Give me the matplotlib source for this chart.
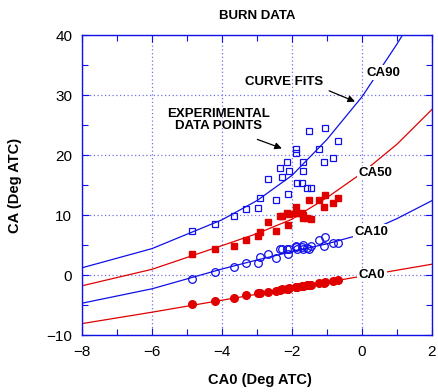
import matplotlib
matplotlib.use('Agg')
import matplotlib.pyplot as plt
from matplotlib.ticker import MultipleLocator

plt.rcParams['font.family'] = ['Liberation Sans', 'DejaVu Sans']

# measured burn points, one entry per test (x = CA0)
ca0_x = [-4.85, -4.2, -3.66, -3.31, -2.98, -2.91, -2.68, -2.47, -2.34, -2.29,
         -2.13, -2.11, -2.08, -1.89, -1.89, -1.85, -1.72, -1.68, -1.68, -1.58,
         -1.51, -1.46, -1.22, -1.08, -1.06, -0.84, -0.68]
ca0_pts = [-4.9, -4.3, -3.8, -3.4, -3.05, -2.95, -2.8, -2.6, -2.5, -2.4,
           -2.3, -2.25, -2.2, -2.05, -2.0, -2.0, -1.85, -1.8, -1.85, -1.7,
           -1.65, -1.6, -1.4, -1.25, -1.2, -1.0, -0.85]
ca10_pts = [-0.67, 0.45, 1.28, 1.95, 1.95, 2.95, 3.45, 2.78, 4.38, 4.3,
            4.38, 3.45, 4.4, 4.88, 4.6, 4.4, 4.6, 5.0, 4.3, 4.5,
            4.28, 4.8, 5.83, 4.88, 6.38, 5.38, 5.38]
ca50_pts = [3.45, 4.33, 4.83, 5.83, 6.5, 7.2, 8.8, 7.33, 9.9, 9.9,
            10.3, 8.33, 10.2, 11.3, 10.3, 10.3, 10.3, 9.45, 10.0, 9.45,
            12.5, 9.4, 12.5, 11.4, 13.3, 12.05, 12.9]
ca90_pts = [7.3, 8.5, 9.9, 11.0, 11.1, 12.9, 16.0, 12.5, 17.9, 16.4,
            18.9, 13.5, 17.4, 21.0, 20.4, 15.4, 15.4, 18.9, 17.4, 14.5,
            24.0, 14.5, 21.0, 18.9, 24.5, 19.5, 22.4]

# curve fits evaluated on a coarse grid
fit_x = [-8, -6, -4, -3, -2, -1, 0, 1, 2]
fit_ca0 = [-8.1, -6.2, -4.2, -3.2, -2.2, -1.2, -0.2, 0.8, 1.8]
fit_ca10 = [-4.7, -2.3, 1.0, 2.5, 3.9, 5.2, 6.8, 9.4, 12.4]
fit_ca50 = [-1.8, 0.95, 4.9, 6.9, 9.3, 12.9, 17.0, 21.8, 27.6]
fit_ca90 = [1.2, 4.4, 9.2, 12.4, 16.6, 22.6, 29.7, 38.5, 48.0]

red = '#e00000'
blue = '#1010e8'

fig = plt.figure(figsize=(4.38, 3.92), dpi=100)
ax = fig.add_axes([0.1872, 0.1454, 0.7991, 0.7653])

ax.plot(fit_x, fit_ca0, color=red, lw=0.9, zorder=2)
ax.plot(fit_x, fit_ca10, color=blue, lw=0.9, zorder=2)
ax.plot(fit_x, fit_ca50, color=red, lw=0.9, zorder=2)
ax.plot(fit_x, fit_ca90, color=blue, lw=0.9, zorder=2)

ax.plot(ca0_x, ca0_pts, 'o', color=red, ms=5.5, zorder=3)
ax.plot(ca0_x, ca10_pts, 'o', mfc='none', mec=blue, mew=0.9, ms=5.5, zorder=3)
ax.plot(ca0_x, ca50_pts, 's', color=red, ms=5, zorder=3)
ax.plot(ca0_x, ca90_pts, 's', mfc='none', mec=blue, mew=0.9, ms=4.6, zorder=3)

ax.set_xlim(-8, 2)
ax.set_ylim(-10, 40)
ax.xaxis.set_major_locator(MultipleLocator(2))
ax.xaxis.set_minor_locator(MultipleLocator(1))
ax.yaxis.set_major_locator(MultipleLocator(10))
ax.yaxis.set_minor_locator(MultipleLocator(5))
ax.tick_params(which='both', direction='in', top=True, right=True,
               colors=blue, labelcolor='black', labelsize=11, pad=7)
ax.tick_params(which='major', length=5, width=0.8)
ax.tick_params(which='minor', length=4, width=0.8)
ax.grid(True, which='major', color='#7272ea', ls=(0, (1, 2)), lw=0.9)
for s in ax.spines.values():
    s.set_color(blue)
    s.set_linewidth(1.0)

# curve labels sit on the lines with a white patch
lab = dict(ha='center', va='center', fontsize=9.5, fontweight='bold', zorder=4,
           bbox=dict(facecolor='white', edgecolor='none', pad=1.0))
ax.text(0.6, 33.7, 'CA90', **lab)
ax.text(0.37, 17.0, 'CA50', **lab)
ax.text(0.26, 7.2, 'CA10', **lab)
ax.text(0.29, 0.0, 'CA0', **lab)

arrow = dict(arrowstyle='-|>', color='black', lw=0.9, mutation_scale=10,
             shrinkA=0, shrinkB=0)
ax.annotate('CURVE FITS', xy=(-0.2, 28.9), xytext=(-2.23, 32.2),
            ha='center', va='center', fontsize=9.5, fontweight='bold')
ax.annotate('', xy=(-0.2, 28.9), xytext=(-0.94, 30.7), arrowprops=arrow)
ax.annotate('EXPERIMENTAL\nDATA POINTS', xy=(-2.29, 21.1), xytext=(-4.11, 25.8),
            ha='center', va='center', fontsize=9.5, fontweight='bold',
            linespacing=1.0)
ax.annotate('', xy=(-2.29, 21.1), xytext=(-2.99, 22.6), arrowprops=arrow)

fig.text(0.587, 1 - 16 / 392, 'BURN DATA', ha='center', va='center',
         fontsize=9.5, fontweight='bold')
ax.set_xlabel('CA0 (Deg ATC)', fontsize=10.5, fontweight='bold')
ax.xaxis.set_label_coords(0.509, -0.15)
ax.xaxis.label.set_va('center')
ax.set_ylabel('CA (Deg ATC)', fontsize=10.5, fontweight='bold')
ax.yaxis.set_label_coords(-0.19, 0.5)
ax.yaxis.label.set_va('center')

fig.savefig('out.png', dpi=100)
